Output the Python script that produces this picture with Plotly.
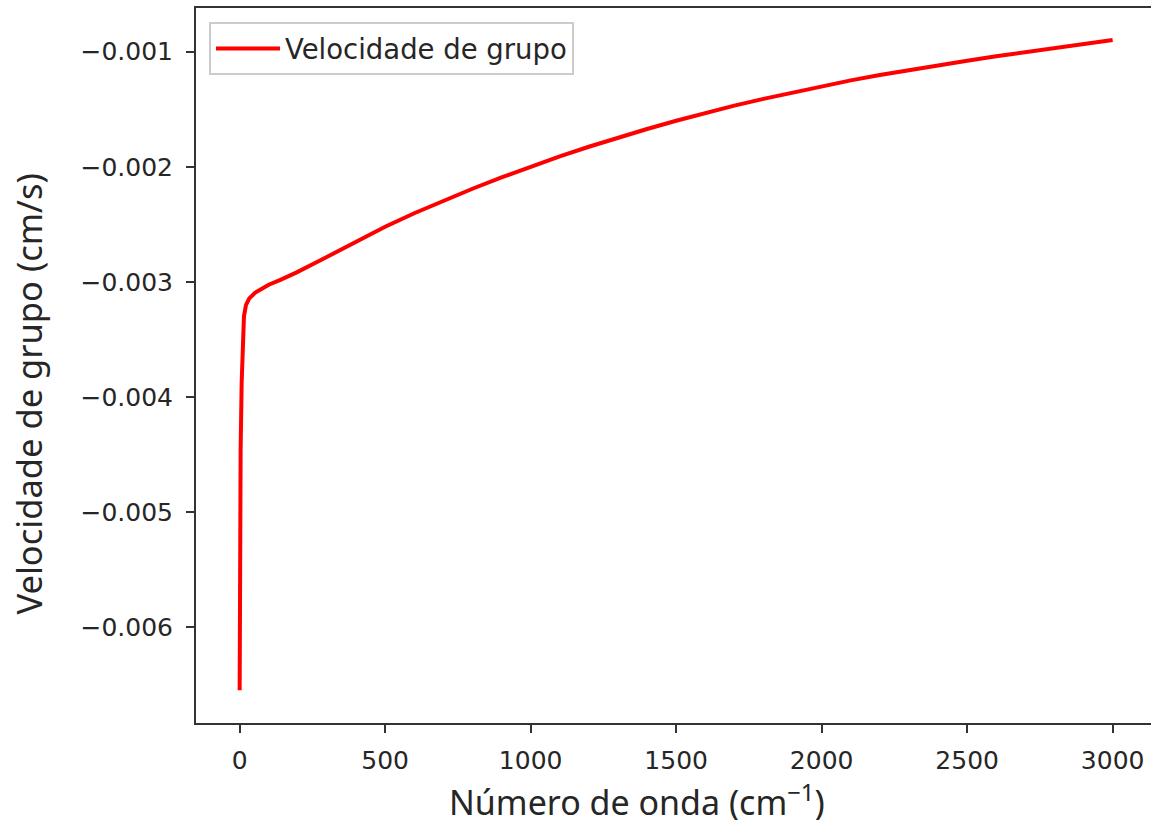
import plotly.graph_objects as go

# Data
wavenumber = [0, 0.2, 1.0, 3.4, 6.9, 12.4, 14.8, 21.6, 33, 52.6, 81, 100, 138, 196, 276, 356,
              400, 500, 600, 700, 800, 900, 1000, 1100, 1200, 1300, 1400, 1500, 1600, 1700,
              1800, 1900, 2000, 2100, 2200, 2300, 2400, 2500, 2600, 2700, 2800, 2900, 3000]
group_velocity = [-0.00655, -0.00528, -0.00504, -0.00446, -0.00388, -0.00342, -0.00330,
                  -0.003203, -0.003144, -0.003096, -0.003052, -0.003025, -0.002985,
                  -0.002918, -0.002815, -0.002708, -0.002650, -0.002522, -0.002404,
                  -0.002294, -0.002191, -0.002093, -0.002000, -0.001910, -0.001826,
                  -0.001747, -0.001672, -0.001600, -0.001532, -0.001469, -0.001410,
                  -0.001354, -0.001300, -0.001249, -0.001202, -0.001159, -0.001118,
                  -0.001078, -0.001040, -0.001004, -0.000969, -0.000934, -0.000899]

series_name = "Velocidade de grupo"
x_title = "Número de onda (cm<sup>−1</sup>)"
y_title = "Velocidade de grupo (cm/s)"

W, H = 1151, 820
L, R, T, B = 196, 0, 8, 97
plot_w = W - L - R
plot_h = H - T - B

fig = go.Figure()
fig.add_trace(go.Scatter(
    x=wavenumber, y=group_velocity, mode="lines", name=series_name,
    line=dict(color="#ff0000", width=4),
))

tick_font = dict(family="DejaVu Sans", size=25, color="#262626")
axis_line = "#333333"

fig.update_layout(
    width=W, height=H,
    margin=dict(l=L, r=R, t=T, b=B, pad=0),
    paper_bgcolor="white", plot_bgcolor="white",
    showlegend=True,
    legend=dict(
        x=(209 - L) / plot_w, y=(H - B - 22) / plot_h,
        xanchor="left", yanchor="top",
        bgcolor="rgba(255,255,255,0.8)", bordercolor="#cccccc", borderwidth=2,
        font=dict(family="DejaVu Sans", size=27.5, color="#262626"),
        itemwidth=64,
    ),
    xaxis=dict(
        range=[-150, -150 + plot_w / 0.2910], tick0=0, dtick=500,
        showgrid=False, zeroline=False,
        showline=True, linecolor=axis_line, linewidth=2, mirror=True,
        ticks="outside", ticklen=8, tickwidth=2, tickcolor=axis_line,
        tickfont=tick_font, ticklabelstandoff=6,
    ),
    yaxis=dict(
        range=[-0.006835, -0.00062], tick0=0, dtick=0.001, tickformat=".3f",
        showgrid=False, zeroline=False,
        showline=True, linecolor=axis_line, linewidth=2,
        ticks="outside", ticklen=8, tickwidth=2, tickcolor=axis_line,
        tickfont=tick_font, ticklabelstandoff=8,
    ),
    annotations=[
        dict(text=x_title, xref="paper", yref="paper",
             x=(637 - L) / plot_w, y=(H - B - 800) / plot_h,
             xanchor="center", yanchor="middle", showarrow=False,
             font=dict(family="Noto Sans", size=34, color="#262626")),
        dict(text=y_title, xref="paper", yref="paper", textangle=-90,
             x=(28 - L) / plot_w, y=(H - B - 394.5) / plot_h,
             xanchor="center", yanchor="middle", showarrow=False,
             font=dict(family="Noto Sans", size=34.5, color="#262626")),
    ],
)

fig.write_html(
    "out.html",
    config={"displayModeBar": False},
    post_script="document.body.style.margin='0';document.body.style.overflow='hidden';",
)
